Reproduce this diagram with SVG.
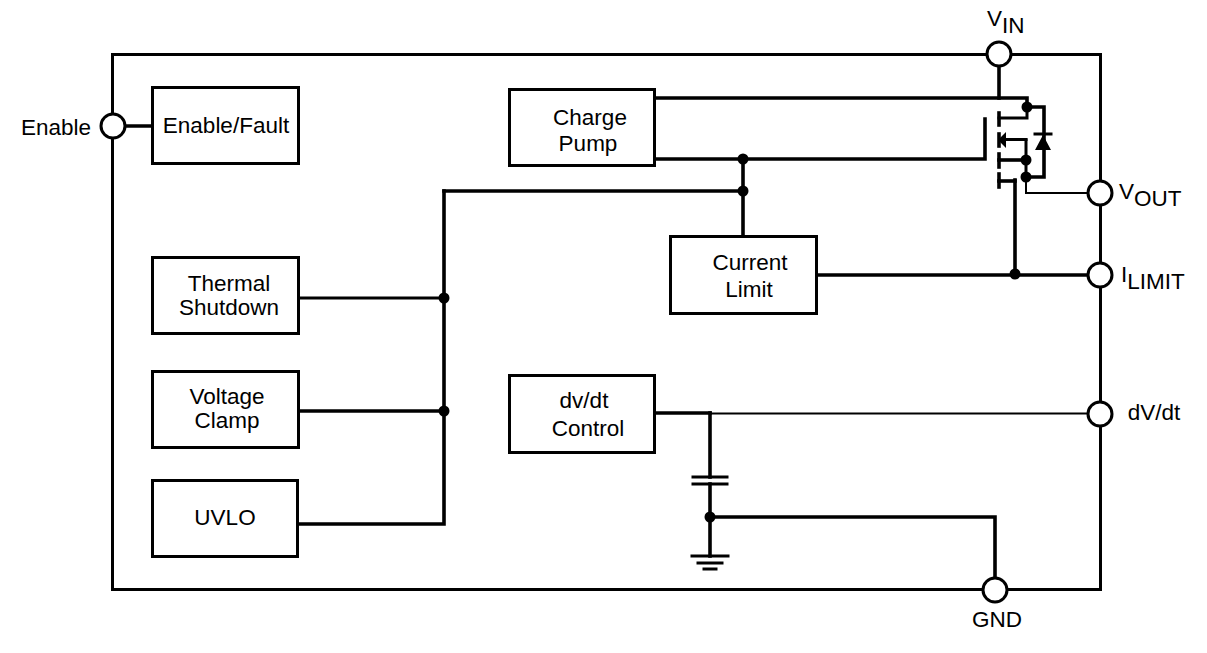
<svg xmlns="http://www.w3.org/2000/svg" width="1207" height="653" viewBox="0 0 1207 653">
<style>
.w{fill:none;stroke:#000;stroke-width:3;stroke-linecap:square}
.h{stroke-width:3.600}
.t{stroke-width:2}
.b{fill:#fff;stroke:#000;stroke-width:3}
.p{fill:#fff;stroke:#000;stroke-width:3}
.d{fill:#000}
text{font-family:"Liberation Sans",Arial,sans-serif;font-size:22.500px;fill:#000;text-anchor:middle}
.l{text-anchor:start}
</style>
<rect width="1207" height="653" fill="#fff"/>
<g id="package"><rect x="112.500" y="54.500" width="988" height="535" fill="none" stroke="#000" stroke-width="3"/></g>
<g id="connectors">
<path class="w h" d="M113 126H152"/>
<path class="w h" d="M655 98H1027V107"/>
<path class="w h" d="M999 66V98"/>
<path class="w h" d="M655 159H985V119"/>
<path class="w h" d="M743 159V236"/>
<path class="w h" d="M444 191V524H298"/>
<path class="w h" d="M444 191H743"/>
<path class="w" d="M298 298H444"/>
<path class="w h" d="M298 411H444"/>
<path class="w h" d="M816 275H1100"/>
<path class="w h" d="M1015 180V275"/>
<path class="w h" d="M655 413H710"/>
<path class="w t" stroke-linecap="butt" d="M710 413.500H1090"/>
<path class="w h" d="M710 413V477"/>
<path class="w h" d="M710 484V556"/>
<path class="w h" d="M710 517H995V590"/>
<path class="w h" d="M1027 107H1044V177H1026"/>
<path class="w" d="M1027 107V118H999"/>
<path class="w" d="M1026 140V177"/>
<path class="w" d="M1005 139.500H1026"/>
<path class="w h" d="M999 160H1026"/>
<path class="w h" d="M999 181H1015"/>
<path class="w t" d="M1026 177V193H1090"/>
<path class="w h" d="M999 113V125"/>
<path class="w h" d="M999 134V146"/>
<path class="w h" d="M999 154V167"/>
<path class="w h" d="M999 174V187"/>
<path class="w" d="M693 477H727"/>
<path class="w" d="M693 484H727"/>
<path class="w" d="M692 556H728"/>
<path class="w" d="M698 563H722"/>
<path class="w" d="M704 569H716"/>
<path class="d" d="M1006 132V148L998 140Z"/>
<path class="d" d="M1043 135L1051 150H1035Z"/>
<path class="w" d="M1035 134H1051"/>
<circle class="d" cx="1027" cy="107" r="5.500"/>
<circle class="d" cx="1026" cy="160" r="5.500"/>
<circle class="d" cx="1026" cy="177" r="5.500"/>
<circle class="d" cx="743" cy="159" r="5.500"/>
<circle class="d" cx="743" cy="191" r="5.500"/>
<circle class="d" cx="444" cy="298" r="5.500"/>
<circle class="d" cx="444" cy="411" r="5.500"/>
<circle class="d" cx="1015" cy="274" r="5.500"/>
<circle class="d" cx="710" cy="517" r="5.500"/>
</g>
<g id="enable-fault"><rect class="b" x="152.500" y="87.500" width="146" height="76"/><text x="226" y="133">Enable/Fault</text></g>
<g id="charge-pump"><rect class="b" x="509.500" y="89.500" width="145" height="76"/><text x="590" y="125">Charge</text><text x="588" y="151">Pump</text></g>
<g id="thermal-shutdown"><rect class="b" x="152.500" y="257.500" width="146" height="76"/><text x="229" y="291">Thermal</text><text x="229" y="315">Shutdown</text></g>
<g id="voltage-clamp"><rect class="b" x="152.500" y="371.500" width="146" height="76"/><text x="227" y="404">Voltage</text><text x="227" y="428">Clamp</text></g>
<g id="uvlo"><rect class="b" x="152.500" y="480.500" width="145" height="76"/><text x="225" y="525">UVLO</text></g>
<g id="current-limit"><rect class="b" x="670.500" y="236.500" width="146" height="77"/><text x="750" y="270">Current</text><text x="749" y="297">Limit</text></g>
<g id="dvdt-control"><rect class="b" x="509.500" y="375.500" width="145" height="77"/><text x="584" y="408">dv/dt</text><text x="588" y="436">Control</text></g>
<g id="pin-enable"><circle class="p" cx="113" cy="126" r="12"/><text x="56" y="135">Enable</text></g>
<g id="pin-vin"><circle class="p" cx="999" cy="54" r="12"/><text x="987" y="26" class="l">V<tspan dy="7">IN</tspan></text></g>
<g id="pin-vout"><circle class="p" cx="1100" cy="193" r="12"/><text x="1119" y="199" class="l">V<tspan dy="7">OUT</tspan></text></g>
<g id="pin-ilimit"><circle class="p" cx="1100" cy="275" r="12"/><text x="1121" y="282" class="l">I<tspan dy="7">LIMIT</tspan></text></g>
<g id="pin-dvdt"><circle class="p" cx="1100" cy="414" r="12"/><text x="1154" y="420">dV/dt</text></g>
<g id="pin-gnd"><circle class="p" cx="995" cy="590" r="12"/><text x="997" y="627">GND</text></g>
</svg>
